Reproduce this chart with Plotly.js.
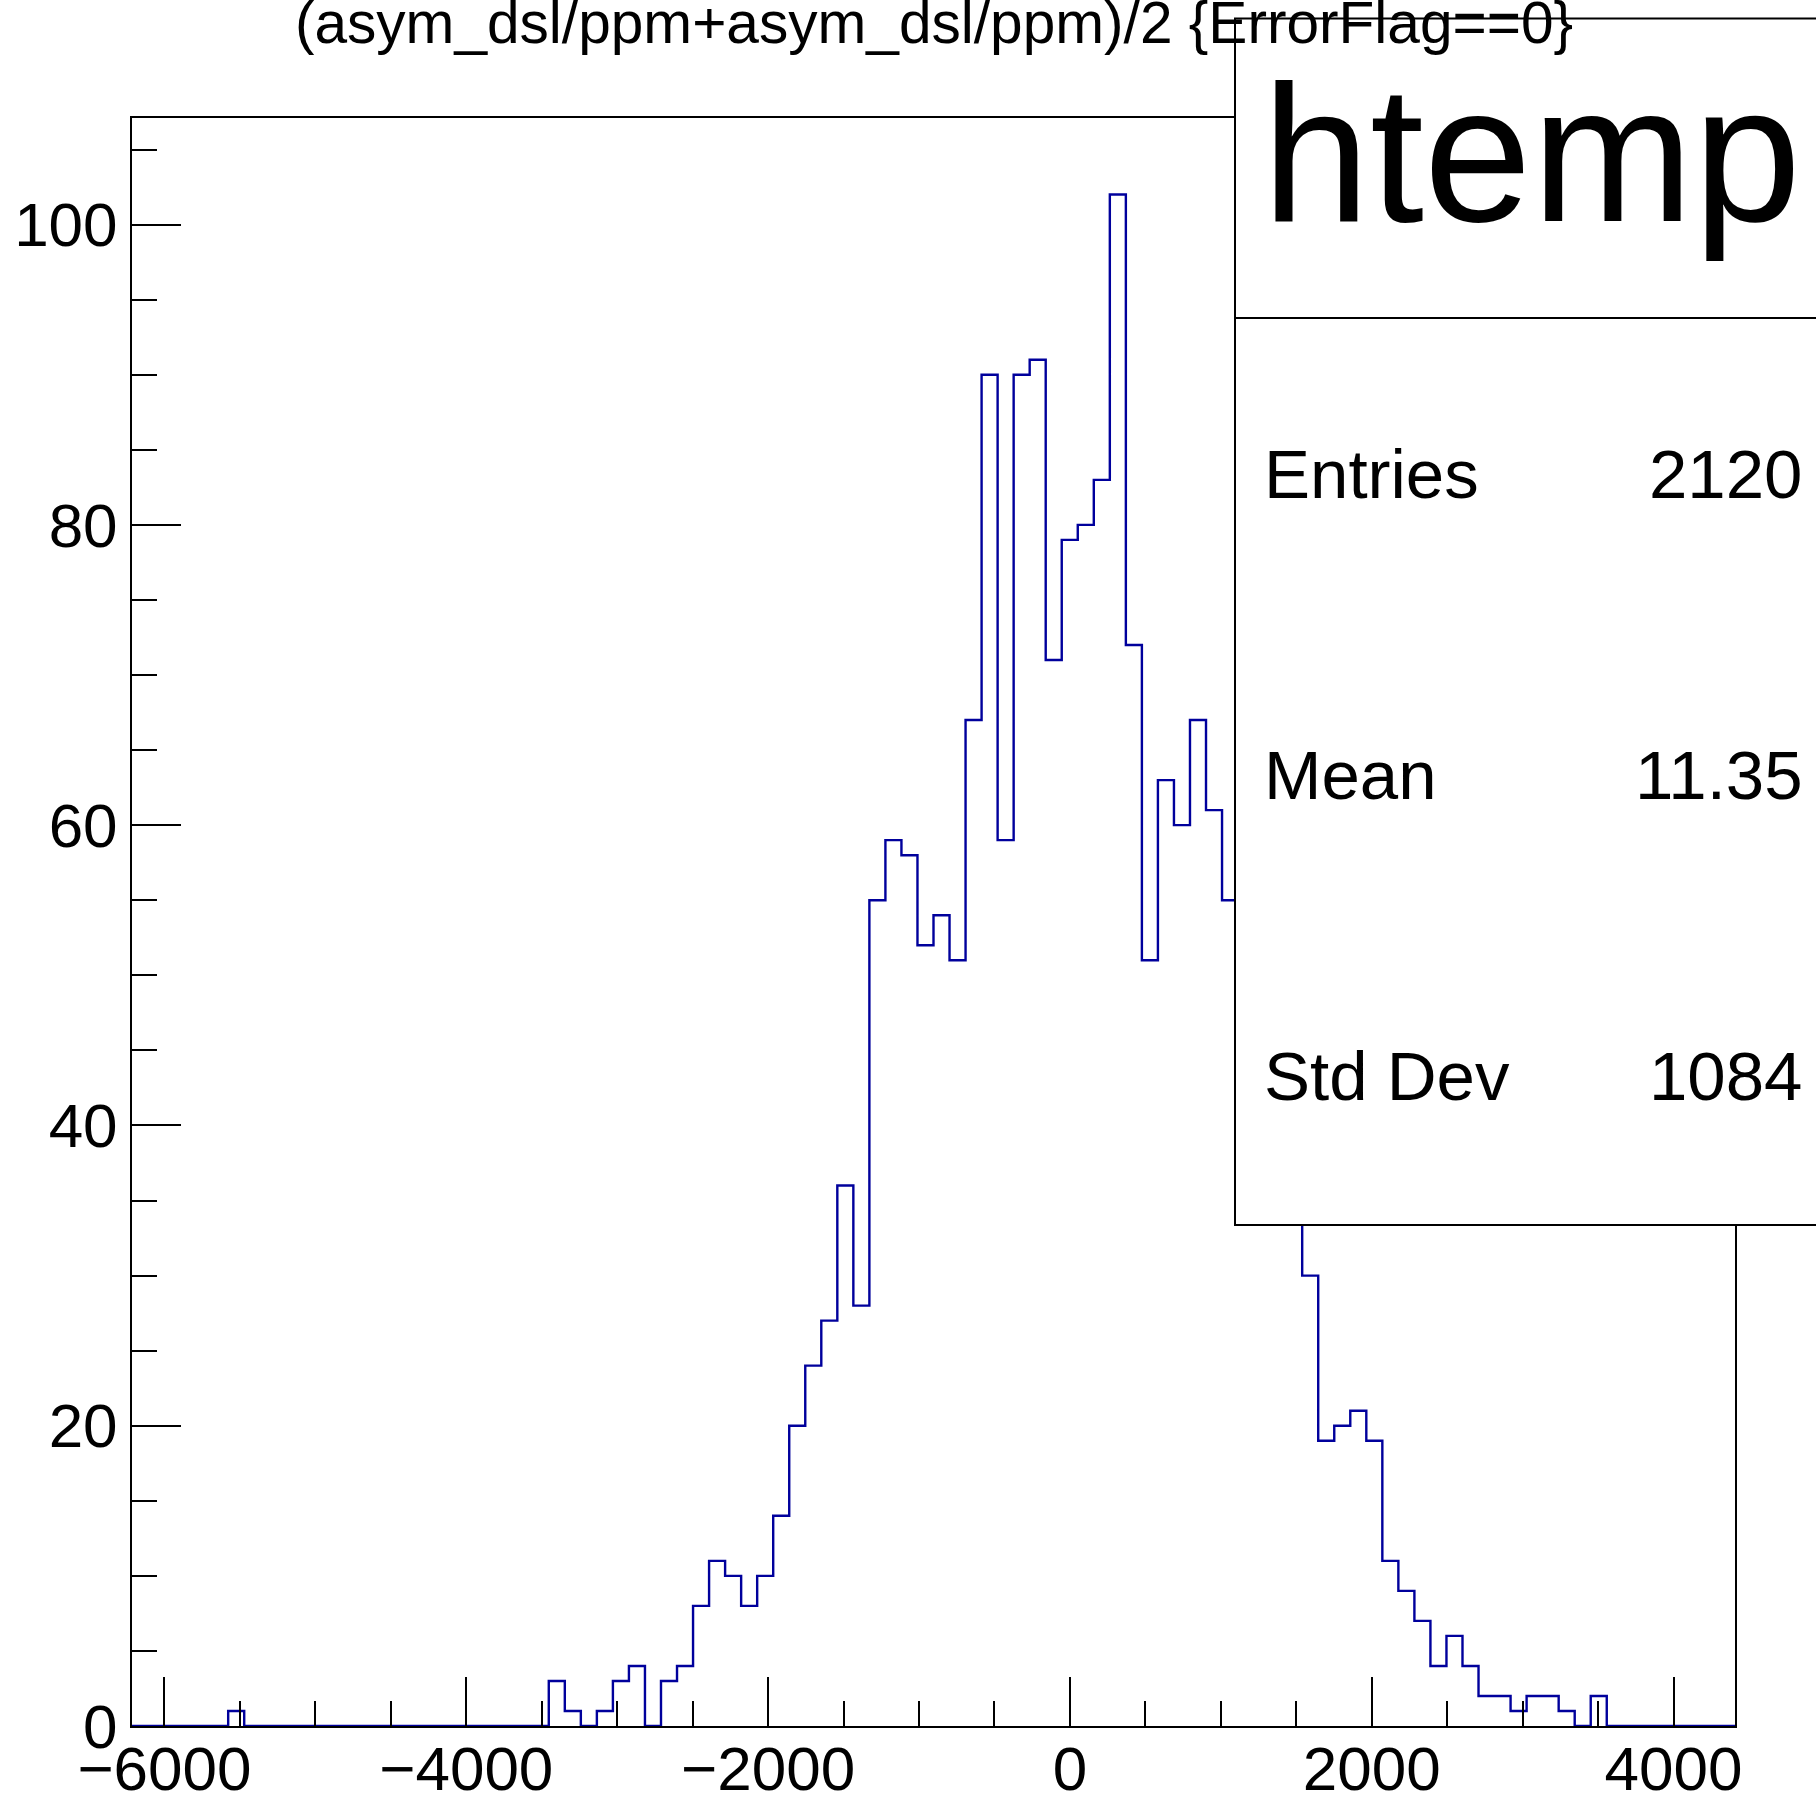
<!DOCTYPE html>
<html>
<head>
<meta charset="utf-8">
<script src="https://cdn.plot.ly/plotly-3.0.1.min.js"></script>
<style>html,body{margin:0;padding:0;background:#fff;}</style>
</head>
<body>
<div id="chart" style="width:1816px;height:1800px;"></div>
<script>
// Histogram definition
const histTitle = "(asym_dsl/ppm+asym_dsl/ppm)/2 {ErrorFlag==0}";
const histName = "htemp";
const binLow = -6215;
const binHigh = 4407;
const nBins = 100;
const counts = [
  0, 0, 0, 0, 0, 0, 1, 0, 0, 0,
  0, 0, 0, 0, 0, 0, 0, 0, 0, 0,
  0, 0, 0, 0, 0, 0, 3, 1, 0, 1,
  3, 4, 0, 3, 4, 8, 11, 10, 8, 10,
  14, 20, 24, 27, 36, 28, 55, 59, 58, 52,
  54, 51, 67, 90, 59, 90, 91, 71, 79, 80,
  83, 102, 72, 51, 63, 60, 67, 61, 55, 50,
  44, 40, 38, 30, 19, 20, 21, 19, 11, 9,
  7, 4, 6, 4, 2, 2, 1, 2, 2, 1,
  0, 2, 0, 0, 0, 0, 0, 0, 0, 0
];
const statLabels = ["Entries", "Mean", "Std Dev"];
const statValues = ["2120", "11.35", "1084"];
const yMax = 107.1;

// bin edges -> step line
const bw = (binHigh - binLow) / nBins;
const xs = [binLow], ys = [0];
for (let i = 0; i < nBins; i++) { xs.push(binLow + i * bw); ys.push(counts[i]); }
xs.push(binHigh); ys.push(counts[nBins - 1]);
xs.push(binHigh); ys.push(0);

const FONT = "Liberation Sans, Arial, Helvetica, sans-serif";

const trace = {
  type: "scatter", mode: "lines", x: xs, y: ys,
  line: {shape: "hv", color: "#00009c", width: 2.4},
  hoverinfo: "skip", showlegend: false, cliponaxis: true
};

function axisCommon() {
  return {
    showline: true, linecolor: "#000", linewidth: 2, mirror: true,
    ticks: "inside", ticklen: 49, tickwidth: 2, tickcolor: "#000",
    showgrid: false, zeroline: false, exponentformat: "none",
    tickfont: {family: FONT, size: 62, color: "#000"},
    fixedrange: true
  };
}

const xaxis = Object.assign(axisCommon(), {
  range: [binLow, binHigh], tick0: 0, dtick: 2000, ticklabelstandoff: -12,
  minor: {ticks: "inside", ticklen: 25, tickwidth: 2, tickcolor: "#000", tick0: 0, dtick: 500, showgrid: false}
});
const yaxis = Object.assign(axisCommon(), {
  range: [0, yMax], tick0: 0, dtick: 20, ticklabelstandoff: 0,
  minor: {ticks: "inside", ticklen: 25, tickwidth: 2, tickcolor: "#000", tick0: 0, dtick: 5, showgrid: false}
});

// pixel helpers for stat box (plot area: x 132..1735, y 118..1726)
const L = 132, R = 1735, T = 118, B = 1726;
const px = v => (v - L) / (R - L);
const py = v => (B - v) / (B - T);

const shapes = [
  {type: "rect", xref: "paper", yref: "paper", x0: px(1235), x1: px(1830), y0: py(1225), y1: py(18.5),
   fillcolor: "#fff", line: {color: "#000", width: 2}, layer: "above"},
  {type: "line", xref: "paper", yref: "paper", x0: px(1235), x1: px(1830), y0: py(318), y1: py(318),
   line: {color: "#000", width: 2}, layer: "above"}
];

const annotations = [
  {xref: "paper", yref: "paper", x: px(1260), y: py(221 - 0.347 * 194), xanchor: "left", yanchor: "middle",
   text: histName, showarrow: false, font: {family: FONT, size: 194, color: "#000"}}
];
const rowBase = [498, 799, 1100];
for (let i = 0; i < statLabels.length; i++) {
  const yc = py(rowBase[i] - 0.347 * 69);
  annotations.push({xref: "paper", yref: "paper", x: px(1262), y: yc, xanchor: "left", yanchor: "middle",
    text: statLabels[i], showarrow: false, font: {family: FONT, size: 69, color: "#000"}});
  annotations.push({xref: "paper", yref: "paper", x: px(1805), y: yc, xanchor: "right", yanchor: "middle",
    text: statValues[i], showarrow: false, font: {family: FONT, size: 69, color: "#000"}});
}

const layout = {
  width: 1816, height: 1800,
  margin: {l: L, r: 1816 - R, t: T, b: 1800 - B, pad: 0},
  paper_bgcolor: "#fff", plot_bgcolor: "#fff",
  title: {text: histTitle, x: 934 / 1816, xanchor: "center", xref: "container",
          y: 1 - (43 - 0.347 * 58.6) / 1800, yanchor: "middle", yref: "container",
          font: {family: FONT, size: 58.6, color: "#000"}},
  xaxis: xaxis, yaxis: yaxis,
  shapes: shapes, annotations: annotations,
  showlegend: false
};

Plotly.newPlot("chart", [trace], layout, {displayModeBar: false, staticPlot: true});
</script>
</body>
</html>
